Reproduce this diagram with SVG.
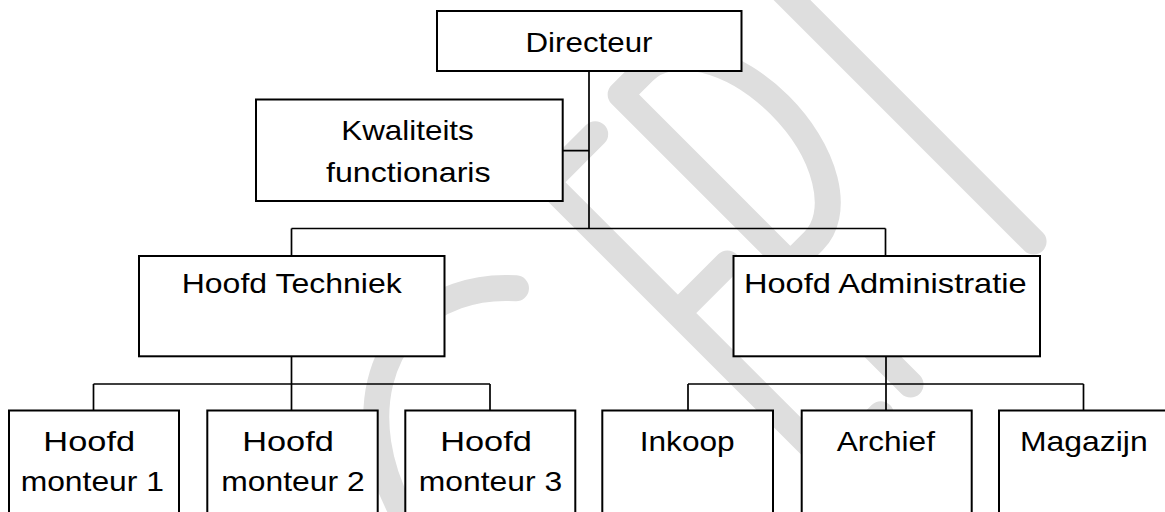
<svg xmlns="http://www.w3.org/2000/svg" width="1165" height="512" viewBox="0 0 1165 512">
<style>
.box{fill:#fff;stroke:#000;stroke-width:2}
.ln{fill:none;stroke:#000;stroke-width:1.7}
.wm{fill:none;stroke:#dedede;stroke-width:26;stroke-linecap:round;stroke-linejoin:round}
text{font-family:"Liberation Sans",Arial,sans-serif;font-size:28px;fill:#000;text-anchor:middle}
</style>
<rect width="1165" height="512" fill="#fff"/>
<g id="watermark" transform="translate(647.5 647.5) rotate(-45)">
<path class="wm" d="M161 -347 A150 195 0 1 0 161 -53"/>
<path class="wm" d="M330 0 H258 V-400 H326 M258 -215 H328"/>
<path class="wm" d="M372 0 V-410 H405 A72 120 0 0 1 405 -170 H372"/>
<path class="wm" d="M560 -14 V-480"/>
</g>
<g id="connectors">
<path class="ln" d="M589 71 V228.5 M563 150.7 H589 M291.5 228.5 H885.5 M291.5 228.5 V256 M885.5 228.5 V256"/>
<path class="ln" d="M291.5 356 V384 M93.5 384 H490 M93.5 384 V411 M291.5 384 V411 M490 384 V411"/>
<path class="ln" d="M886 356 V384 M688 384 H1083.5 M688 384 V411 M886 384 V411 M1083.5 384 V411"/>
</g>
<g id="directeur"><rect class="box" x="437" y="11" width="304.5" height="60"/><text x="589" y="51.7" textLength="127" lengthAdjust="spacingAndGlyphs">Directeur</text></g>
<g id="kwaliteit"><rect class="box" x="256" y="99.5" width="306.7" height="101.5"/><text x="407.5" y="140" textLength="132.6" lengthAdjust="spacingAndGlyphs">Kwaliteits</text><text x="408.3" y="181.5" textLength="164.7" lengthAdjust="spacingAndGlyphs">functionaris</text></g>
<g id="hoofd-techniek"><rect class="box" x="139" y="256" width="305.5" height="100.3"/><text x="291.7" y="293.3" textLength="220" lengthAdjust="spacingAndGlyphs">Hoofd Techniek</text></g>
<g id="hoofd-administratie"><rect class="box" x="733.5" y="256" width="306.5" height="100.3"/><text x="885.3" y="293.3" textLength="282.7" lengthAdjust="spacingAndGlyphs">Hoofd Administratie</text></g>
<g id="monteur1"><rect class="box" x="9" y="410.5" width="170" height="110"/><text x="89.2" y="451" textLength="91.7" lengthAdjust="spacingAndGlyphs">Hoofd</text><text x="92.3" y="491" textLength="143.3" lengthAdjust="spacingAndGlyphs">monteur 1</text></g>
<g id="monteur2"><rect class="box" x="207.3" y="410.5" width="170.4" height="110"/><text x="288" y="451" textLength="91.7" lengthAdjust="spacingAndGlyphs">Hoofd</text><text x="293" y="491" textLength="143.3" lengthAdjust="spacingAndGlyphs">monteur 2</text></g>
<g id="monteur3"><rect class="box" x="405.3" y="410.5" width="170" height="110"/><text x="486" y="451" textLength="91.7" lengthAdjust="spacingAndGlyphs">Hoofd</text><text x="490.5" y="491" textLength="143.3" lengthAdjust="spacingAndGlyphs">monteur 3</text></g>
<g id="inkoop"><rect class="box" x="602.3" y="410.5" width="170.7" height="110"/><text x="687.2" y="451" textLength="95" lengthAdjust="spacingAndGlyphs">Inkoop</text></g>
<g id="archief"><rect class="box" x="801.7" y="410.5" width="170" height="110"/><text x="885.8" y="451" textLength="98.3" lengthAdjust="spacingAndGlyphs">Archief</text></g>
<g id="magazijn"><rect class="box" x="999" y="410.5" width="170" height="110"/><text x="1083.8" y="451" textLength="127.7" lengthAdjust="spacingAndGlyphs">Magazijn</text></g>
</svg>
